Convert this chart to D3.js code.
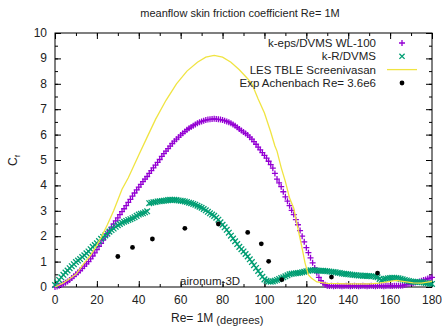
<!DOCTYPE html>
<html>
<head>
<meta charset="utf-8">
<script src="https://cdn.jsdelivr.net/npm/d3@7"></script>
<style>
  body { margin: 0; background: #fff; }
  svg { display: block; font-family: "Liberation Sans", Arial, sans-serif; }
</style>
</head>
<body>
<svg id="cfGraph" width="442" height="326"></svg>
<script>
const sampleAngles = d3.range(0, 181, 1);

const kEpsCf = [
  0.0, 0.02, 0.05, 0.08, 0.12, 0.17, 0.22, 0.28, 0.35, 0.42,
  0.5, 0.57, 0.65, 0.73, 0.82, 0.91, 1.0, 1.11, 1.22, 1.34,
  1.47, 1.6, 1.72, 1.85, 1.98, 2.1, 2.23, 2.36, 2.48, 2.6,
  2.72, 2.85, 2.97, 3.08, 3.2, 3.33, 3.45, 3.58, 3.7, 3.82,
  3.93, 4.04, 4.15, 4.25, 4.35, 4.47, 4.58, 4.69, 4.8, 4.91,
  5.02, 5.14, 5.25, 5.35, 5.45, 5.55, 5.65, 5.74, 5.82, 5.9,
  5.98, 6.05, 6.12, 6.19, 6.25, 6.3, 6.35, 6.4, 6.45, 6.49,
  6.52, 6.55, 6.57, 6.59, 6.6, 6.61, 6.62, 6.61, 6.6, 6.59,
  6.57, 6.55, 6.52, 6.49, 6.45, 6.4, 6.35, 6.29, 6.22, 6.16,
  6.1, 6.04, 5.98, 5.9, 5.82, 5.72, 5.62, 5.51, 5.4, 5.29,
  5.18, 5.07, 4.95, 4.82, 4.68, 4.47, 4.25, 4.1, 3.95, 3.75,
  3.55, 3.38, 3.2, 3.02, 2.85, 2.65, 2.45, 2.22, 2.0, 1.78,
  1.55, 1.35, 1.15, 0.95, 0.75, 0.56, 0.38, 0.25, 0.15, 0.09,
  0.05, 0.04, 0.05, 0.03, 0.04, 0.05, 0.04, 0.03, 0.04, 0.05,
  0.04, 0.03, 0.04, 0.05, 0.04, 0.03, 0.04, 0.05, 0.04, 0.03,
  0.04, 0.05, 0.04, 0.03, 0.04, 0.05, 0.04, 0.03, 0.04, 0.05,
  0.04, 0.04, 0.05, 0.05, 0.05, 0.05, 0.06, 0.08, 0.1, 0.12,
  0.15, 0.16, 0.18, 0.2, 0.22, 0.25, 0.28, 0.3, 0.33, 0.35,
  0.38];

const kRCf = [
  0.08, 0.18, 0.28, 0.38, 0.48, 0.57, 0.65, 0.74, 0.82, 0.9,
  0.98, 1.04, 1.1, 1.18, 1.25, 1.33, 1.4, 1.49, 1.58, 1.65,
  1.72, 1.81, 1.9, 1.97, 2.03, 2.1, 2.18, 2.24, 2.3, 2.37,
  2.43, 2.48, 2.53, 2.57, 2.6, 2.64, 2.67, 2.71, 2.75, 2.8,
  2.85, 2.88, 2.9, 2.94, 2.98, 3.3, 3.32, 3.34, 3.35, 3.37,
  3.38, 3.39, 3.4, 3.41, 3.42, 3.43, 3.43, 3.43, 3.42, 3.41,
  3.4, 3.39, 3.37, 3.35, 3.32, 3.3, 3.27, 3.24, 3.2, 3.16,
  3.12, 3.07, 3.02, 2.96, 2.9, 2.85, 2.8, 2.73, 2.65, 2.55,
  2.45, 2.35, 2.25, 2.14, 2.02, 1.91, 1.8, 1.69, 1.58, 1.49,
  1.4, 1.3, 1.2, 1.09, 0.98, 0.86, 0.75, 0.63, 0.52, 0.4,
  0.3, 0.25, 0.22, 0.21, 0.22, 0.25, 0.28, 0.31, 0.35, 0.38,
  0.42, 0.46, 0.5, 0.52, 0.53, 0.54, 0.55, 0.56, 0.58, 0.6,
  0.62, 0.64, 0.66, 0.66, 0.66, 0.65, 0.64, 0.64, 0.64, 0.63,
  0.62, 0.61, 0.6, 0.59, 0.58, 0.56, 0.55, 0.53, 0.52, 0.51,
  0.5, 0.49, 0.48, 0.47, 0.46, 0.45, 0.45, 0.44, 0.44, 0.43,
  0.43, 0.42, 0.42, 0.4, 0.38, 0.32, 0.28, 0.3, 0.32, 0.34,
  0.35, 0.36, 0.36, 0.35, 0.34, 0.32, 0.3, 0.28, 0.26, 0.24,
  0.22, 0.21, 0.2, 0.2, 0.2, 0.19, 0.18, 0.16, 0.15, 0.13,
  0.12];

const lesAngle = [0, 4, 10, 14, 17, 20, 22, 25, 28, 32, 35, 40, 44, 48, 53, 58, 63, 68, 72, 76, 80, 84, 88, 92, 94, 97, 100,
  103, 105, 106, 108, 110, 112, 114, 115.4, 117.8, 119.4, 121, 122.4, 125, 130, 140, 150, 155, 160, 163, 166, 171, 175, 180];
const lesCf = [0.0, 0.16, 0.5, 0.95, 1.25, 1.65, 1.95, 2.45, 3.0, 3.85, 4.3, 5.2, 5.9, 6.6, 7.35, 8.0, 8.5, 8.85, 9.05, 9.12,
  9.05, 8.85, 8.55, 8.2, 8.0, 7.4, 6.85, 6.1, 5.55, 5.35, 4.7, 4.15, 3.5, 3.1, 2.52, 1.6, 0.94, 0.48, 0.35, 0.2,
  0.14, 0.12, 0.12, 0.15, 0.22, 0.26, 0.22, 0.16, 0.15, 0.22];

const expAngle = [30, 37, 46.5, 62, 78, 92, 98.5, 102, 108.3, 132, 154];
const expCf = [1.2, 1.56, 1.89, 2.31, 2.48, 2.15, 1.7, 1.01, 0.29, 0.39, 0.55];

const legendLabels = ["k-eps/DVMS WL-100", "k-R/DVMS", "LES TBLE Screenivasan", "Exp Achenbach Re= 3.6e6"];
const xTicks = [0, 20, 40, 60, 80, 100, 120, 140, 160, 180];
const yTicks = [0, 1, 2, 3, 4, 5, 6, 7, 8, 9, 10];

// Colors
const purple = "#9400d3";
const green = "#009e73";
const yellow = "#f0e442";

// Size settings
const svg = d3.select("#cfGraph");
const margin = {top: 33, right: 10, bottom: 39, left: 55};
const width = 442, height = 326;
const plotW = width - margin.left - margin.right;
const plotH = height - margin.top - margin.bottom;

const x = d3.scaleLinear().domain([0, 180]).range([margin.left, margin.left + plotW]);
const y = d3.scaleLinear().domain([0, 10]).range([margin.top + plotH, margin.top]);

svg.append("rect").attr("width", width).attr("height", height).attr("fill", "#fff");

// Ticks (gnuplot style: inward, mirrored, with minor ticks)
const minorX = d3.range(0, 181, 10);
const minorY = d3.range(0, 10.01, 0.5);

function tickAxis(axisFn, scale, values, size, transform) {
  svg.append("g")
    .attr("transform", transform)
    .call(axisFn(scale).tickValues(values).tickSizeInner(size).tickSizeOuter(0).tickFormat(""))
    .call(g => g.select(".domain").remove())
    .call(g => g.selectAll("line").attr("stroke", "#000").attr("stroke-width", 1));
}
const bottomY = margin.top + plotH, rightX = margin.left + plotW;
tickAxis(d3.axisBottom, x, minorX, -3, `translate(0,${bottomY})`);
tickAxis(d3.axisBottom, x, xTicks, -6, `translate(0,${bottomY})`);
tickAxis(d3.axisTop, x, minorX, -3, `translate(0,${margin.top})`);
tickAxis(d3.axisTop, x, xTicks, -6, `translate(0,${margin.top})`);
tickAxis(d3.axisLeft, y, minorY, -3, `translate(${margin.left},0)`);
tickAxis(d3.axisLeft, y, yTicks, -6, `translate(${margin.left},0)`);
tickAxis(d3.axisRight, y, minorY, -3, `translate(${rightX},0)`);
tickAxis(d3.axisRight, y, yTicks, -6, `translate(${rightX},0)`);

// Tick labels
svg.append("g").selectAll("text")
  .data(xTicks).enter().append("text")
  .attr("x", d => x(d)).attr("y", bottomY + 17)
  .attr("text-anchor", "middle").attr("font-size", 12).attr("fill", "#222")
  .text(d => d);

svg.append("g").selectAll("text")
  .data(yTicks).enter().append("text")
  .attr("x", margin.left - 8).attr("y", d => y(d) + 4)
  .attr("text-anchor", "end").attr("font-size", 12).attr("fill", "#222")
  .text(d => d);

// Border
svg.append("rect")
  .attr("x", margin.left).attr("y", margin.top)
  .attr("width", plotW).attr("height", plotH)
  .attr("fill", "none").attr("stroke", "#000").attr("stroke-width", 1);

// Marker paths
const plusPath = s => `M${-s},0H${s}M0,${-s}V${s}`;
const crossPath = s => `M${-s},${-s}L${s},${s}M${-s},${s}L${s},${-s}`;

// k-eps series
const kEpsData = sampleAngles.map((a, i) => ({a: a, v: kEpsCf[i]}));
svg.append("g").selectAll("path")
  .data(kEpsData).enter().append("path")
  .attr("transform", d => `translate(${x(d.a)},${y(d.v)})`)
  .attr("d", plusPath(3))
  .attr("stroke", purple).attr("stroke-width", 1.3).attr("fill", "none");

// k-R series
const kRData = sampleAngles.map((a, i) => ({a: a, v: kRCf[i]}));
svg.append("g").selectAll("path")
  .data(kRData).enter().append("path")
  .attr("transform", d => `translate(${x(d.a)},${y(d.v)})`)
  .attr("d", crossPath(2.8))
  .attr("stroke", green).attr("stroke-width", 1.3).attr("fill", "none");

// LES line
const lesData = lesAngle.map((a, i) => ({a: a, v: lesCf[i]}));
const line = d3.line().x(d => x(d.a)).y(d => y(d.v));
svg.append("path")
  .datum(lesData)
  .attr("d", line)
  .attr("fill", "none").attr("stroke", yellow).attr("stroke-width", 1.3);

// Experimental points
const expData = expAngle.map((a, i) => ({a: a, v: expCf[i]}));
svg.append("g").selectAll("circle")
  .data(expData).enter().append("circle")
  .attr("cx", d => x(d.a)).attr("cy", d => y(d.v))
  .attr("r", 2.4).attr("fill", "#000");

// Legend
const legend = svg.append("g");
const legY = [43, 56.3, 69.6, 83];
legendLabels.forEach((lab, i) => {
  legend.append("text")
    .attr("x", 376).attr("y", legY[i] + 4)
    .attr("text-anchor", "end").attr("font-size", 11.5).attr("fill", "#222")
    .text(lab);
});
legend.append("path").attr("transform", `translate(402,${legY[0]})`)
  .attr("d", plusPath(3)).attr("stroke", purple).attr("stroke-width", 1.3);
legend.append("path").attr("transform", `translate(402,${legY[1]})`)
  .attr("d", crossPath(2.6)).attr("stroke", green).attr("stroke-width", 1.3);
legend.append("line")
  .attr("x1", 387).attr("x2", 417).attr("y1", legY[2]).attr("y2", legY[2])
  .attr("stroke", yellow).attr("stroke-width", 1.3);
legend.append("circle").attr("cx", 402).attr("cy", legY[3]).attr("r", 2.4).attr("fill", "#000");

// Texts
svg.append("text")
  .attr("x", 240).attr("y", 17)
  .attr("text-anchor", "middle").attr("font-size", 11).attr("fill", "#222")
  .text("meanflow skin friction coefficient Re= 1M");

svg.append("text")
  .attr("x", 180).attr("y", 285)
  .attr("font-size", 11.5).attr("fill", "#222")
  .text("aironum-3D");

const xl = svg.append("text")
  .attr("x", 171).attr("y", 322)
  .attr("font-size", 12).attr("fill", "#222");
xl.append("tspan").text("Re= 1M");
xl.append("tspan").attr("dx", 3).attr("dy", 2).attr("font-size", 11).text("(degrees)");

const yl = svg.append("text")
  .attr("transform", "translate(17,166) rotate(-90)")
  .attr("font-size", 12).attr("fill", "#222");
yl.append("tspan").text("C");
yl.append("tspan").attr("dy", 3).attr("font-size", 8).text("f");
</script>
</body>
</html>
